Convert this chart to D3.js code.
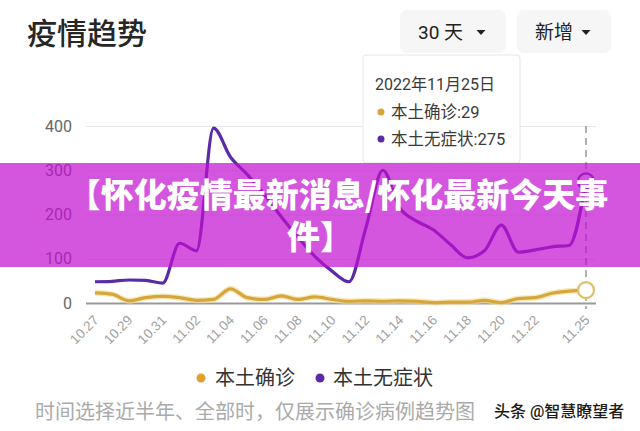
<!DOCTYPE html>
<html><head><meta charset="utf-8">
<script src="https://cdn.jsdelivr.net/npm/d3@7/dist/d3.min.js"></script>
<style>
html,body{margin:0;padding:0;background:#fff;}
svg{display:block;font-family:Roboto,"Noto Sans CJK SC",sans-serif;}
</style></head>
<body>
<svg id="c" width="640" height="431"></svg>
<script>
const dates = ["10.27","10.28","10.29","10.30","10.31","11.01","11.02","11.03","11.04","11.05",
  "11.06","11.07","11.08","11.09","11.10","11.11","11.12","11.13","11.14","11.15",
  "11.16","11.17","11.18","11.19","11.20","11.21","11.22","11.23","11.24","11.25"];
const confirmed = [23,20,5,12,15,12,6,8,32,12,8,16,8,14,8,4,5,4,5,4,1,2,2,6,1,10,12,22,27,29];
const asymptomatic = [48,49,52,51,45,135,118,395,330,290,245,195,148,105,72,48,170,300,215,185,165,132,102,118,176,115,120,127,130,275];
const tickLabels = ["10.27","10.29","10.31","11.02","11.04","11.06","11.08","11.10","11.12","11.14","11.16","11.18","11.20","11.22","11.25"];
const yTicks = [0,100,200,300,400];
const seriesNames = ["本土确诊","本土无症状"];
const seriesColors = ["#d6a63a","#5b2ba6"];
const tooltipDate = "2022年11月25日";
const titleText = "疫情趋势";
const bannerLines = ["【怀化疫情最新消息/怀化最新今天事","件】"];

const svg = d3.select("#c");
const x = d3.scalePoint().domain(dates).range([95,586]);
const y = d3.scaleLinear().domain([0,400]).range([303,126]);

// title
svg.append("text").attr("x",27).attr("y",44).attr("font-size",30).attr("font-weight",500)
  .attr("fill","#262626").attr("font-family","'Noto Sans CJK SC',sans-serif").text(titleText);

// buttons
const btns = [{x:400,w:106,label:"30 天"},{x:517,w:94,label:"新增"}];
btns.forEach(b=>{
  svg.append("rect").attr("x",b.x).attr("y",10).attr("width",b.w).attr("height",43).attr("rx",7).attr("fill","#f6f6f6");
  svg.append("text").attr("x",b.x+18).attr("y",39).attr("font-size",19).attr("fill","#222").text(b.label);
  const tx=b.x+b.w-25, ty=30;
  svg.append("path").attr("d",`M${tx-4.5},${ty}L${tx+4.5},${ty}L${tx},${ty+5}Z`).attr("fill","#222");
});

// grid via axis
const gy = svg.append("g").attr("transform","translate(86,0)")
  .call(d3.axisLeft(y).tickValues(yTicks).tickSize(-510).tickPadding(14));
gy.select(".domain").remove();
gy.selectAll(".tick line").attr("stroke",d=>d===0?"#999":"#e8e8e8").attr("stroke-width",d=>d===0?2:1);
gy.selectAll(".tick text").attr("font-size",16).attr("fill","#666").attr("font-family","Roboto,sans-serif");

// x axis labels
const gx = svg.append("g").attr("transform","translate(0,304)")
  .call(d3.axisBottom(x).tickValues(tickLabels).tickSize(0));
gx.select(".domain").remove();
gx.selectAll(".tick text").attr("font-size",13.5).attr("fill","#a0a0a0")
  .attr("text-anchor","end").attr("dy",0).attr("y",0)
  .attr("transform","translate(4,17) rotate(-45)");

// dashed hover line
const lastD = dates[dates.length-1];
svg.append("line").attr("x1",x(lastD)).attr("x2",x(lastD)).attr("y1",y(400)).attr("y2",309)
  .attr("stroke","#888").attr("stroke-width",1.3).attr("stroke-dasharray","7,5");

// lines
const line = d3.line().x((d,i)=>x(dates[i])).y(d=>y(d)).curve(d3.curveMonotoneX);
svg.append("path").datum(confirmed).attr("d",line).attr("fill","none").attr("stroke","#f3dc92").attr("stroke-width",6).attr("stroke-opacity",0.6);
svg.append("path").datum(confirmed).attr("d",line).attr("fill","none").attr("stroke",seriesColors[0]).attr("stroke-width",3.2);
svg.append("path").datum(asymptomatic).attr("d",line).attr("fill","none").attr("stroke",seriesColors[1]).attr("stroke-width",3.2);

// end markers
svg.append("circle").attr("cx",x(lastD)).attr("cy",y(confirmed[29])).attr("r",8).attr("fill","#fff").attr("stroke","#dcc06a").attr("stroke-width",2.2);
svg.append("circle").attr("cx",x(lastD)).attr("cy",y(asymptomatic[29])).attr("r",8).attr("fill","#fff").attr("stroke",seriesColors[1]).attr("stroke-width",2.2);

// tooltip
const tt = svg.append("g");
tt.append("rect").attr("x",363).attr("y",55).attr("width",157).attr("height",108).attr("rx",3)
  .attr("fill","#fff").attr("stroke","#e6e6e6").attr("stroke-width",1);
tt.append("text").attr("x",375).attr("y",90).attr("font-size",16).attr("fill","#3a3a3a").text(tooltipDate);
const vals=[confirmed[29],asymptomatic[29]];
[0,1].forEach(i=>{
  const cy = 112+i*27;
  tt.append("circle").attr("cx",381).attr("cy",cy).attr("r",3.5).attr("fill",seriesColors[i]);
  tt.append("text").attr("x",391).attr("y",cy+6).attr("font-size",16.5).attr("fill","#3a3a3a").text(seriesNames[i]+":"+vals[i]);
});

// legend
const legColors=["#e0a032",seriesColors[1]];
const lg=[{cx:201,tx:215},{cx:320,tx:333}];
lg.forEach((l,i)=>{
  svg.append("circle").attr("cx",l.cx).attr("cy",378).attr("r",4.5).attr("fill",legColors[i]);
  svg.append("text").attr("x",l.tx).attr("y",385).attr("font-size",20).attr("fill","#333").text(seriesNames[i]);
});

// footer
svg.append("text").attr("x",35).attr("y",419).attr("font-size",20).attr("fill","#aaa").text("时间选择近半年、全部时，仅展示确诊病例趋势图");
svg.append("text").attr("x",494).attr("y",417).attr("font-size",16).attr("font-weight",500).attr("fill","#1a1a1a")
  .text("头条 @智慧瞭望者");

// banner overlay
svg.append("rect").attr("x",0).attr("y",163).attr("width",640).attr("height",104)
  .attr("fill","rgb(194,14,208)").attr("fill-opacity",0.7);
bannerLines.forEach((t,i)=>{
  svg.append("text").attr("x",i===0?338:320).attr("y",207+i*42).attr("text-anchor","middle")
    .attr("font-size",33).attr("font-weight",900).attr("fill","#fff")
    .attr("font-family","'Noto Sans CJK SC',sans-serif").text(t);
});
</script>
</body></html>
